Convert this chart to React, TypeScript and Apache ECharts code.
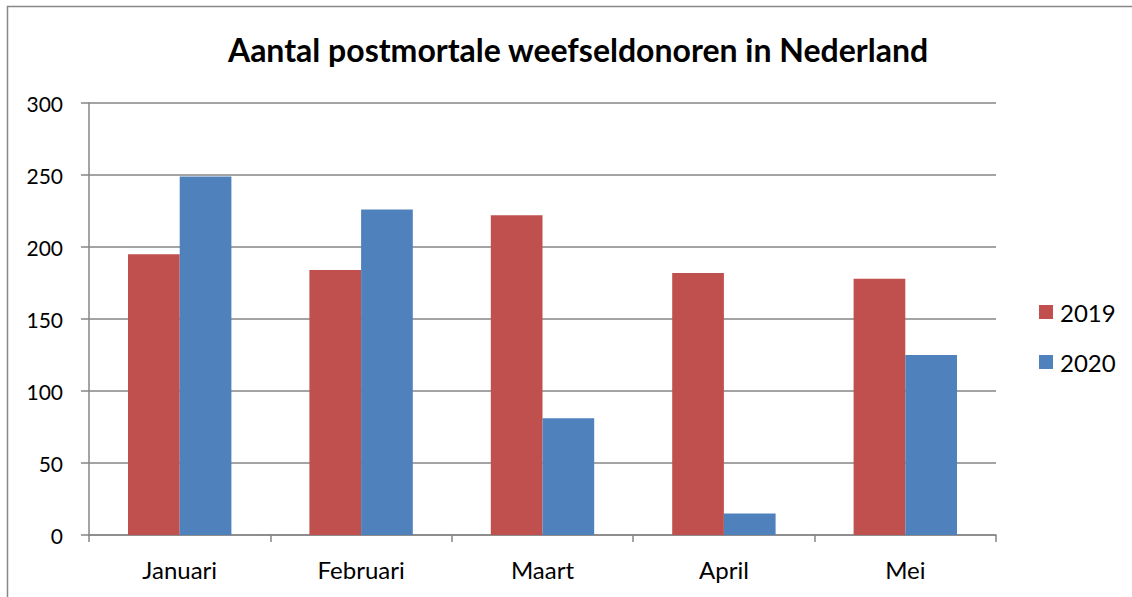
import React, { useEffect, useRef } from "react";
import * as echarts from "echarts";

const categories = ["Januari", "Februari", "Maart", "April", "Mei"];
const values2019 = [195, 184, 222, 182, 178];
const values2020 = [249, 226, 81, 15, 125];
const seriesNames = ["2019", "2020"];
const titleText = "Aantal postmortale weefseldonoren in Nederland";

const FONT = "Lato, Carlito, Calibri, sans-serif";

export default function App() {
  const ref = useRef<HTMLDivElement>(null);
  useEffect(() => {
    if (!ref.current) return;
    const chart = echarts.init(ref.current, undefined, { renderer: "svg" });
    chart.setOption({
      animation: false,
      backgroundColor: "#ffffff",
      title: {
        text: titleText,
        left: 573,
        top: 28,
        textAlign: "center",
        textStyle: { fontFamily: FONT, fontWeight: "bold", fontSize: 32, color: "#000" },
      },
      legend: {
        orient: "vertical",
        left: 1039,
        top: 300,
        padding: 0,
        itemWidth: 14,
        itemHeight: 14,
        itemGap: 26,
        icon: "rect",
        textStyle: { fontFamily: FONT, fontSize: 24, color: "#000", padding: [0, 0, 0, 2] },
        data: seriesNames,
      },
      grid: { left: 89, right: 136, top: 103, bottom: 62, containLabel: false },
      xAxis: {
        type: "category",
        data: categories,
        axisLine: { lineStyle: { color: "#868686", width: 1.5 } },
        axisTick: { show: true, alignWithLabel: false, length: 7, lineStyle: { color: "#868686", width: 1.5 } },
        axisLabel: { fontFamily: FONT, fontSize: 24, color: "#000", margin: 22 },
      },
      yAxis: {
        type: "value",
        min: 0,
        max: 300,
        interval: 50,
        axisLine: { show: true, lineStyle: { color: "#868686", width: 1.5 } },
        axisTick: { show: true, inside: false, length: 8, lineStyle: { color: "#868686", width: 1.5 } },
        splitLine: { show: true, lineStyle: { color: "#868686", width: 1.5 } },
        axisLabel: { fontFamily: FONT, fontSize: 21, color: "#000", margin: 26 },
      },
      series: [
        {
          name: seriesNames[0],
          type: "bar",
          data: values2019,
          barGap: "0%",
          barCategoryGap: "43%",
          itemStyle: { color: "#C0504D" },
        },
        {
          name: seriesNames[1],
          type: "bar",
          data: values2020,
          barGap: "0%",
          barCategoryGap: "43%",
          itemStyle: { color: "#4F81BD" },
        },
      ],
      graphic: [
        {
          type: "rect",
          shape: { x: 7.5, y: 6.5, width: 1300, height: 800 },
          style: { fill: "none", stroke: "#888888", lineWidth: 1.5 },
          silent: true,
        },
      ],
    });
    return () => chart.dispose();
  }, []);
  return (
    <div
      ref={ref}
      style={{ position: "fixed", left: 0, top: 0, width: 1132, height: 597 }}
    />
  );
}
